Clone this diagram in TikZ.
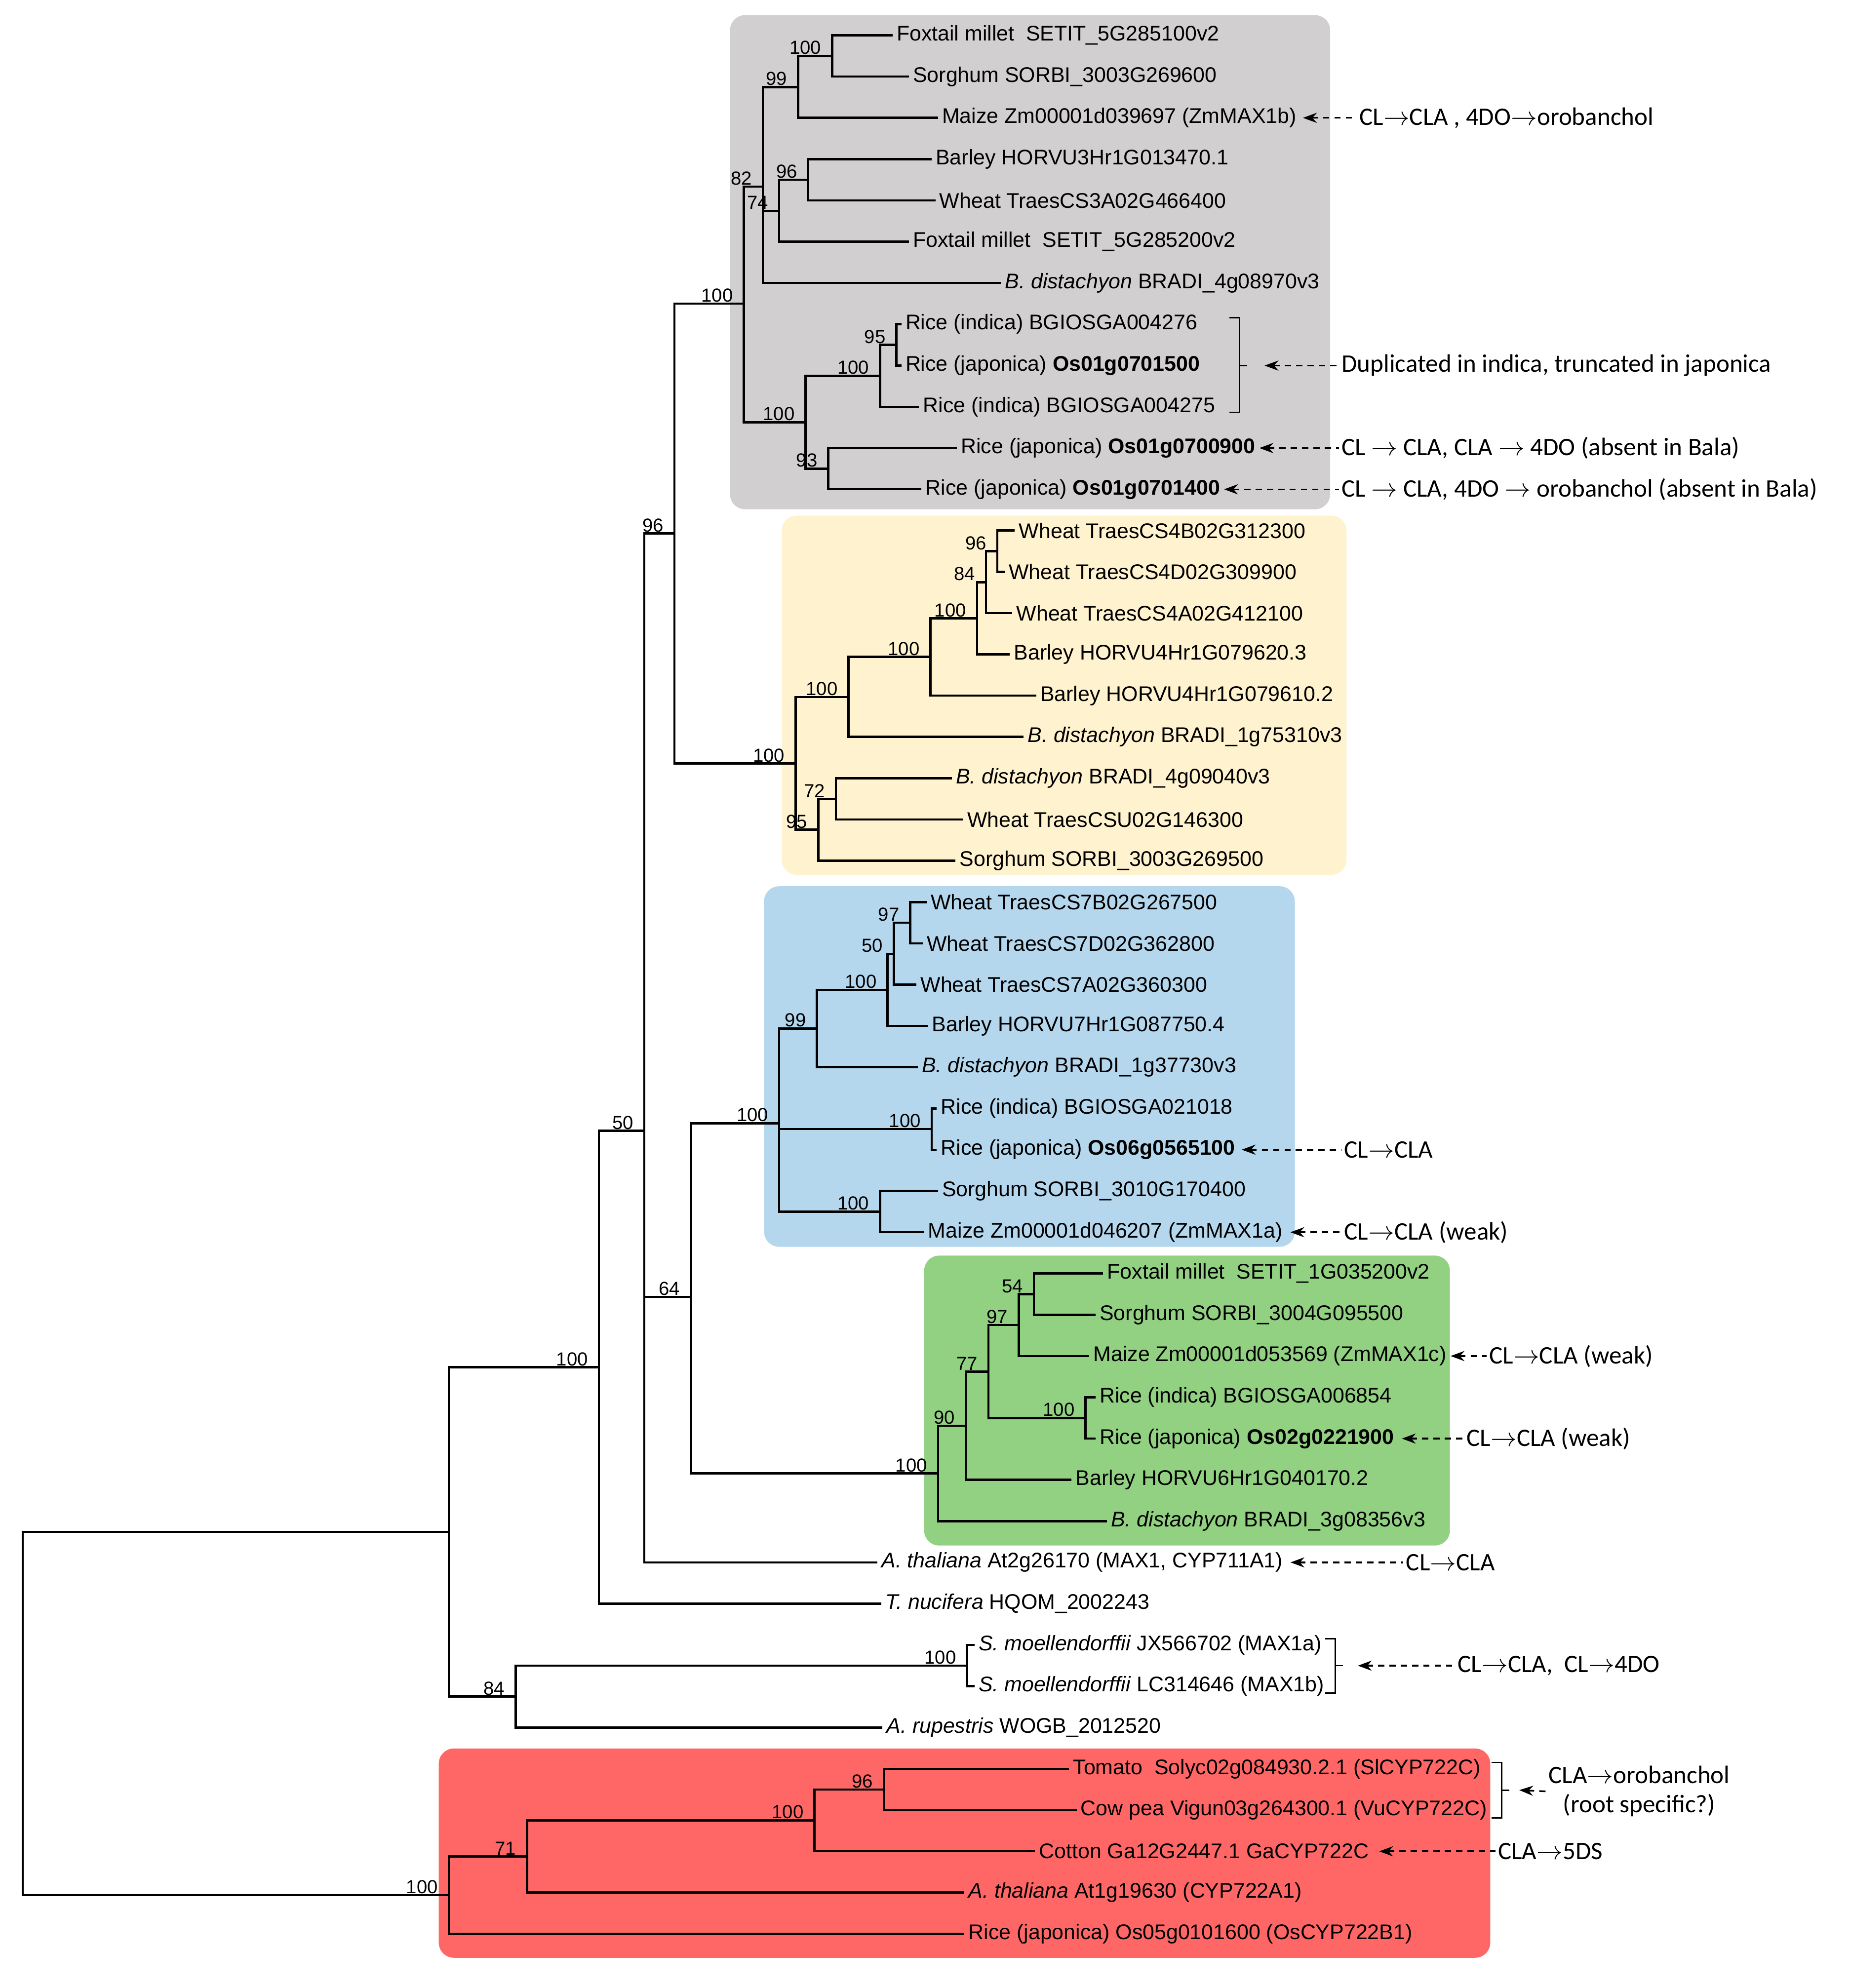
\documentclass[tikz,border=0pt]{standalone}
\usepackage{fontspec}
\setmainfont{Liberation Sans}
\newfontfamily\annfont{Carlito}
\usetikzlibrary{arrows.meta,calc}
\newcommand\LY[1]{28+(#1-1)*32.74}
\newcommand\lf[4]{\coordinate (#1) at (#2,{\LY{#3}}); \node[leaf] (#1t) at (#1) {#4};}
\newcommand\nd[4]{\coordinate (#1) at (#2,#3); \node[bs] (#1b) at (#1) {#4};}
\newcommand\rar{\,$\rightarrow$\,}
\newcommand\srar{$\rightarrow$}
\begin{document}
\begin{tikzpicture}[x=1pt,y=-1pt,
  br/.style={line width=1.8pt,line join=miter,line cap=rect},
  leaf/.style={anchor=west,inner sep=0pt,xshift=4pt,font=\fontsize{16.8}{19}\selectfont},
  bs/.style={anchor=south east,inner sep=0.5pt,xshift=-8pt,yshift=0.5pt,font=\fontsize{15}{17}\selectfont},
  ann/.style={anchor=west,inner sep=2pt,font=\annfont\fontsize{20}{23}\selectfont},
  annarrow/.style={line width=1.3pt,dash pattern=on 5pt off 4pt,{Stealth[length=11pt,width=8pt]}-},
  brk/.style={line width=1.1pt}]
\useasboundingbox (0,0) rectangle (1468,1577);
% clade boxes
\fill[fill={rgb,255:red,210;green,207;blue,208},rounded corners=12pt] (579,12) rectangle (1055,404);
\fill[fill={rgb,255:red,255;green,242;blue,206},rounded corners=12pt] (620,409) rectangle (1068,694);
\fill[fill={rgb,255:red,180;green,215;blue,238},rounded corners=12pt] (606,703) rectangle (1027,989);
\fill[fill={rgb,255:red,146;green,208;blue,130},rounded corners=12pt] (733,996) rectangle (1150,1226);
\fill[fill={rgb,255:red,255;green,102;blue,102},rounded corners=12pt] (348,1387) rectangle (1182,1553);
% leaves
\lf{L1}{707}{1}{Foxtail millet\ \ SETIT\_5G285100v2}
\lf{L2}{720}{2}{Sorghum SORBI\_3003G269600}
\lf{L3}{743}{3}{Maize Zm00001d039697 (ZmMAX1b)}
\lf{L4}{738}{4}{Barley HORVU3Hr1G013470.1}
\lf{L5}{741}{5}{Wheat TraesCS3A02G466400}
\lf{L6}{720}{6}{Foxtail millet\ \ SETIT\_5G285200v2}
\lf{L7}{793}{7}{\textit{B. distachyon} BRADI\_4g08970v3}
\lf{L8}{714}{8}{Rice (indica) BGIOSGA004276}
\lf{L9}{714}{9}{Rice (japonica) \textbf{Os01g0701500}}
\lf{L10}{728}{10}{Rice (indica) BGIOSGA004275}
\lf{L11}{758}{11}{Rice (japonica) \textbf{Os01g0700900}}
\lf{L12}{730}{12}{Rice (japonica) \textbf{Os01g0701400}}
\lf{L13}{804}{13}{Wheat TraesCS4B02G312300}
\lf{L14}{796}{14}{Wheat TraesCS4D02G309900}
\lf{L15}{802}{15}{Wheat TraesCS4A02G412100}
\lf{L16}{800}{16}{Barley HORVU4Hr1G079620.3}
\lf{L17}{821}{17}{Barley HORVU4Hr1G079610.2}
\lf{L18}{811}{18}{\textit{B. distachyon} BRADI\_1g75310v3}
\lf{L19}{754}{19}{\textit{B. distachyon} BRADI\_4g09040v3}
\lf{L20}{763}{20}{Wheat TraesCSU02G146300}
\lf{L21}{757}{21}{Sorghum SORBI\_3003G269500}
\lf{L22}{734}{22}{Wheat TraesCS7B02G267500}
\lf{L23}{731}{23}{Wheat TraesCS7D02G362800}
\lf{L24}{726}{24}{Wheat TraesCS7A02G360300}
\lf{L25}{735}{25}{Barley HORVU7Hr1G087750.4}
\lf{L26}{727}{26}{\textit{B. distachyon} BRADI\_1g37730v3}
\lf{L27}{742}{27}{Rice (indica) BGIOSGA021018}
\lf{L28}{742}{28}{Rice (japonica) \textbf{Os06g0565100}}
\lf{L29}{743}{29}{Sorghum SORBI\_3010G170400}
\lf{L30}{732}{30}{Maize Zm00001d046207 (ZmMAX1a)}
\lf{L31}{874}{31}{Foxtail millet\ \ SETIT\_1G035200v2}
\lf{L32}{868}{32}{Sorghum SORBI\_3004G095500}
\lf{L33}{863}{33}{Maize Zm00001d053569 (ZmMAX1c)}
\lf{L34}{868}{34}{Rice (indica) BGIOSGA006854}
\lf{L35}{868}{35}{Rice (japonica) \textbf{Os02g0221900}}
\lf{L36}{849}{36}{Barley HORVU6Hr1G040170.2}
\lf{L37}{877}{37}{\textit{B. distachyon} BRADI\_3g08356v3}
\lf{L38}{695}{38}{\textit{A. thaliana} At2g26170 (MAX1, CYP711A1)}
\lf{L39}{698}{39}{\textit{T. nucifera} HQOM\_2002243}
\lf{L40}{772}{40}{\textit{S. moellendorffii} JX566702 (MAX1a)}
\lf{L41}{772}{41}{\textit{S. moellendorffii} LC314646 (MAX1b)}
\lf{L42}{699}{42}{\textit{A. rupestris} WOGB\_2012520}
\lf{L43}{847}{43}{Tomato\ \ Solyc02g084930.2.1 (SlCYP722C)}
\lf{L44}{853}{44}{Cow pea Vigun03g264300.1 (VuCYP722C)}
\lf{L45}{820}{45}{Cotton Ga12G2447.1 GaCYP722C}
\lf{L46}{764}{46}{\textit{A. thaliana} At1g19630 (CYP722A1)}
\lf{L47}{764}{47}{Rice (japonica) Os05g0101600 (OsCYP722B1)}
% internal nodes
\nd{n100a}{660}{44.4}{100}
\nd{n99}{633}{69.0}{99}
\nd{n96a}{641}{142.6}{96}
\nd{n74}{618}{167.2}{74}
\nd{n82}{605}{148}{82}
\nd{n95}{711}{273.6}{95}
\nd{n100b}{698}{298.1}{100}
\nd{n93}{657}{371.8}{93}
\nd{n100c}{639}{334.9}{100}
\nd{greyr}{590}{240.8}{100}
\nd{y96}{791}{437.3}{96}
\nd{y84}{782}{461.8}{84}
\nd{y100a}{775}{490.5}{100}
\nd{y100b}{738}{521.1}{100}
\nd{y100c}{673}{552.9}{100}
\nd{y72}{663}{633.7}{72}
\nd{y95}{649}{658.2}{95}
\nd{yelr}{631}{605.6}{100}
\nd{b97}{722}{731.9}{97}
\nd{b50}{709}{756.5}{50}
\nd{b100a}{704}{785.1}{100}
\nd{b99}{648}{815.8}{99}
\nd{b100r}{739}{895.6}{100}
\nd{b100s}{698}{961.1}{100}
\nd{bluer}{618}{891}{100}
\nd{g54}{820}{1026.6}{54}
\nd{g97}{808}{1051.1}{97}
\nd{gr100}{861}{1124.8}{100}
\nd{g77}{784}{1088.0}{77}
\nd{g90}{766}{1131.0}{90}
\nd{grnr}{744}{1168.8}{100}
\nd{n64}{548}{1028.7}{64}
\nd{n96}{535}{423.2}{96}
\nd{n50}{511}{897}{50}
\nd{nA}{475}{1084.6}{100}
\nd{s100}{767}{1321.3}{100}
\nd{s84}{409}{1345.8}{84}
\coordinate (nB) at (356,1215.2);
\nd{r96}{701}{1419.5}{96}
\nd{r100}{646}{1444.0}{100}
\nd{r71}{418}{1472.7}{71}
\nd{redr}{356}{1503.4}{100}
\coordinate (root) at (18,1359);
% branches
\foreach \p/\c in {n100a/L1,n100a/L2,n99/n100a,n99/L3,n96a/L4,n96a/L5,n74/n96a,n74/L6,
  n82/n99,n82/n74,n82/L7,n95/L8,n95/L9,n100b/n95,n100b/L10,n93/L11,n93/L12,n100c/n100b,n100c/n93,
  greyr/n82,greyr/n100c,
  y96/L13,y96/L14,y84/y96,y84/L15,y100a/y84,y100a/L16,y100b/y100a,y100b/L17,y100c/y100b,y100c/L18,
  y72/L19,y72/L20,y95/y72,y95/L21,yelr/y100c,yelr/y95,
  b97/L22,b97/L23,b50/b97,b50/L24,b100a/b50,b100a/L25,b99/b100a,b99/L26,b100r/L27,b100r/L28,
  b100s/L29,b100s/L30,bluer/b99,bluer/b100r,bluer/b100s,
  g54/L31,g54/L32,g97/g54,g97/L33,gr100/L34,gr100/L35,g77/g97,g77/gr100,g90/g77,g90/L36,grnr/g90,grnr/L37,
  n64/bluer,n64/grnr,n96/greyr,n96/yelr,n50/n96,n50/n64,n50/L38,nA/n50,nA/L39,
  s100/L40,s100/L41,s84/s100,s84/L42,nB/nA,nB/s84,
  r96/L43,r96/L44,r100/r96,r100/L45,r71/r100,r71/L46,redr/r71,redr/L47,root/nB,root/redr}
  \draw[br] (\p) |- (\c);
% brackets
\draw[brk] (975,252) -- (983,252) -- (983,327) -- (975,327);
\coordinate (bk1) at (989,290); \draw[brk] (983,290) -- (bk1);
\draw[brk] (1051,1300) -- (1059,1300) -- (1059,1343) -- (1051,1343);
\coordinate (bk2) at (1065,1321.3); \draw[brk] (1059,1321.3) -- (bk2);
\draw[brk] (1183,1398) -- (1191,1398) -- (1191,1442) -- (1183,1442);
\coordinate (bk3) at (1197,1420); \draw[brk] (1191,1420) -- (bk3);
% annotations
\node[ann] (a1) at (1076,{\LY{3}}) {CL\srar CLA , 4DO\srar orobanchol};
\draw[annarrow] ([xshift=5pt]L3t.east) -- (a1.west);
\node[ann] (a2) at (1062,290) {Duplicated in indica, truncated in japonica};
\draw[annarrow] ([xshift=14pt]bk1) -- (a2.west);
\node[ann] (a3) at (1062,{\LY{11}}) {CL \srar\ CLA, CLA \srar\ 4DO (absent in Bala)};
\draw[annarrow] ([xshift=3pt]L11t.east) -- (a3.west);
\node[ann] (a4) at (1062,{\LY{12}}) {CL \srar\ CLA, 4DO \srar\ orobanchol (absent in Bala)};
\draw[annarrow] ([xshift=3pt]L12t.east) -- (a4.west);
\node[ann] (a5) at (1064,{\LY{28}}) {CL\srar CLA};
\draw[annarrow] ([xshift=5pt]L28t.east) -- (a5.west);
\node[ann] (a6) at (1064,{\LY{30}}) {CL\srar CLA (weak)};
\draw[annarrow] ([xshift=6pt]L30t.east) -- (a6.west);
\node[ann] (a7) at (1179,{\LY{33}}) {CL\srar CLA (weak)};
\draw[annarrow] ([xshift=3pt]L33t.east) -- (a7.west);
\node[ann] (a8) at (1161,{\LY{35}}) {CL\srar CLA (weak)};
\draw[annarrow] ([xshift=6pt]L35t.east) -- (a8.west);
\node[ann] (a9) at (1113,{\LY{38}}) {CL\srar CLA};
\draw[annarrow] ([xshift=6pt]L38t.east) -- (a9.west);
\node[ann] (a10) at (1154,1321.3) {CL\srar CLA,\ \ CL\srar 4DO};
\draw[annarrow] ([xshift=12pt]bk2) -- (a10.west);
\node[ann,align=center] (a11) at (1226,1421) {CLA\srar orobanchol\\(root specific?)};
\draw[annarrow] ([xshift=8pt]bk3) -- (a11.west);
\node[ann] (a12) at (1186,{\LY{45}}) {CLA\srar 5DS};
\draw[annarrow] ([xshift=8pt]L45t.east) -- (a12.west);
\end{tikzpicture}
\end{document}
